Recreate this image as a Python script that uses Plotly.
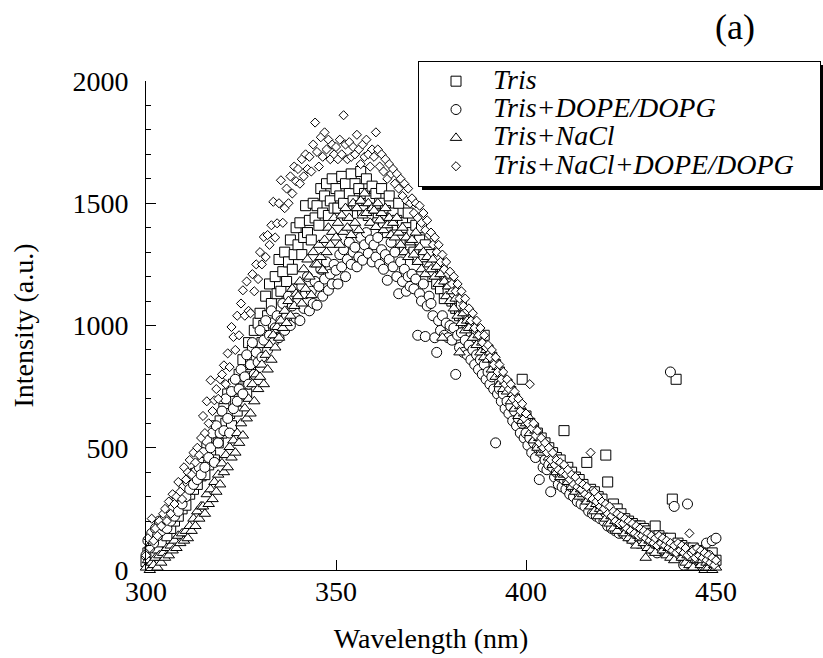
import plotly.graph_objects as go

# Wavelength grid (nm), 0.5 nm sampling from 300 to 450
wavelength = [300 + 0.5 * i for i in range(301)]

tris = [
    35, 70, 48, 95, 60, 120, 90, 140, 115, 160,
    180, 140, 205, 170, 230, 200, 265, 220, 290, 250,
    300, 265, 340, 310, 370, 330, 395, 350, 420, 385,
    460, 390, 500, 430, 470, 540, 450, 590, 520, 610,
    560, 660, 600, 720, 640, 590, 760, 690, 650, 800,
    740, 860, 790, 720, 930, 840, 900, 980, 860, 1010,
    1050, 930, 1000, 1120, 1040, 1170, 1090, 1010, 1200, 1130,
    1270, 1140, 1220, 1300, 1180, 1260, 1350, 1230, 1290, 1400,
    1330, 1420, 1290, 1360, 1490, 1380, 1430, 1350, 1500, 1440,
    1490, 1410, 1560, 1460, 1530, 1580, 1450, 1510, 1600, 1480,
    1560, 1480, 1530, 1610, 1500, 1580, 1450, 1540, 1620, 1510,
    1580, 1490, 1560, 1630, 1470, 1540, 1600, 1450, 1520, 1570,
    1480, 1540, 1420, 1500, 1560, 1410, 1470, 1380, 1530, 1440,
    1460, 1370, 1430, 1500, 1350, 1420, 1310, 1400, 1460, 1330,
    1380, 1300, 1410, 1270, 1350, 1400, 1280, 1330, 1240, 1300,
    1290, 1200, 1250, 1170, 1280, 1150, 1220, 1110, 1190, 1140,
    1170, 1100, 1130, 1070, 1090, 1040, 1080, 1010, 1050, 990,
    1030, 970, 1000, 940, 960, 910, 950, 880, 960, 870,
    900, 850, 870, 810, 840, 780, 810, 750, 770, 730,
    760, 710, 730, 680, 700, 650, 670, 620, 780, 600,
    630, 580, 600, 550, 580, 530, 560, 500, 540, 490,
    520, 470, 500, 450, 480, 430, 460, 420, 450, 400,
    570, 390, 420, 370, 400, 350, 380, 330, 370, 320,
    350, 310, 440, 300, 330, 280, 320, 270, 300, 260,
    290, 250, 470, 360, 260, 230, 270, 210, 250, 200,
    230, 190, 210, 170, 200, 160, 190, 150, 180, 140,
    180, 150, 170, 130, 160, 120, 150, 110, 180, 120,
    140, 110, 130, 90, 120, 100, 130, 290, 90, 780,
    110, 80, 100, 60, 90, 50, 80, 60, 90, 50,
    80, 50, 70, 40, 60, 30, 60, 40, 70, 30,
    40,
]

tris_dope_dopg = [
    60, 120, 90, 150, 110, 170, 140, 200, 160, 180,
    210, 170, 230, 200, 250, 220, 280, 240, 300, 270,
    340, 300, 360, 330, 380, 350, 400, 370, 420, 390,
    480, 420, 530, 460, 500, 560, 440, 590, 520, 560,
    650, 570, 700, 620, 560, 730, 660, 780, 690, 740,
    820, 720, 790, 880, 760, 840, 930, 800, 890, 850,
    980, 870, 940, 1020, 900, 960, 1060, 930, 990, 1040,
    950, 1020, 1090, 980, 1040, 1120, 1000, 1080, 1150, 1030,
    1100, 1020, 1160, 1070, 1130, 1200, 1060, 1140, 1090, 1180,
    1083, 1160, 1230, 1120, 1190, 1260, 1144, 1210, 1170, 1250,
    1226, 1170, 1290, 1240, 1310, 1200, 1270, 1340, 1250, 1300,
    1320, 1240, 1280, 1360, 1267, 1330, 1380, 1295, 1350, 1260,
    1330, 1280, 1360, 1250, 1310, 1230, 1290, 1185, 1270, 1340,
    1240, 1300, 1200, 1130, 1260, 1180, 1230, 1140, 1200, 1160,
    1210, 1150, 1190, 960, 1130, 1100, 1170, 955, 1080, 1120,
    1090, 1040, 950, 890, 1020, 980, 1040, 960, 1010, 950,
    1000, 940, 990, 800, 960, 910, 970, 890, 940, 880,
    920, 860, 900, 840, 880, 820, 860, 800, 840, 780,
    810, 760, 790, 740, 520, 720, 740, 690, 720, 660,
    690, 640, 670, 610, 650, 590, 620, 560, 600, 540,
    560, 510, 540, 480, 520, 460, 500, 370, 480, 420,
    450, 410, 430, 320, 420, 380, 400, 350, 380, 340,
    370, 330, 360, 310, 340, 300, 330, 280, 310, 270,
    300, 260, 290, 240, 280, 230, 270, 220, 260, 210,
    240, 200, 230, 180, 220, 170, 210, 160, 200, 150,
    190, 150, 180, 140, 170, 130, 160, 120, 150, 110,
    150, 110, 140, 100, 130, 90, 120, 80, 110, 70,
    120, 90, 110, 80, 100, 70, 810, 90, 260, 60,
    90, 60, 80, 20, 70, 270, 60, 30, 80, 40,
    70, 40, 60, 20, 50, 110, 60, 30, 120, 40,
    130,
]

tris_nacl = [
    10, 40, 0, 30, 20, 50, 10, 60, 30, 70,
    50, 90, 60, 100, 80, 120, 90, 140, 110, 150,
    120, 160, 130, 180, 160, 210, 180, 240, 210, 260,
    260, 230, 310, 270, 330, 290, 360, 320, 390, 350,
    436, 400, 470, 420, 503, 460, 530, 480, 560, 520,
    600, 550, 661, 620, 700, 640, 760, 690, 800, 740,
    790, 840, 760, 880, 820, 920, 860, 960, 910, 994,
    950, 1020, 990, 1060, 1010, 1100, 1040, 1150, 1080, 1130,
    1120, 1180, 1090, 1230, 1150, 1270, 1200, 1124, 1300, 1250,
    1250, 1330, 1280, 1226, 1350, 1300, 1400, 1330, 1383, 1440,
    1360, 1420, 1330, 1450, 1383, 1480, 1400, 1440, 1370, 1500,
    1420, 1480, 1390, 1510, 1450, 1540, 1460, 1500, 1420, 1480,
    1470, 1403, 1500, 1430, 1460, 1390, 1480, 1410, 1440, 1370,
    1420, 1360, 1440, 1380, 1330, 1400, 1300, 1360, 1280, 1340,
    1350, 1290, 1380, 1260, 1320, 1230, 1300, 1210, 1280, 1250,
    1230, 1270, 1200, 1240, 1170, 1210, 950, 1180, 1120, 1160,
    1100, 1140, 1070, 1110, 1040, 890, 1010, 1050, 980, 1020,
    990, 1020, 950, 990, 920, 960, 890, 930, 870, 900,
    860, 890, 820, 860, 790, 830, 760, 800, 740, 770,
    730, 760, 690, 720, 660, 700, 630, 670, 610, 640,
    600, 630, 560, 600, 530, 570, 500, 540, 480, 510,
    490, 510, 460, 490, 430, 460, 400, 440, 380, 410,
    390, 410, 360, 390, 340, 370, 320, 350, 300, 330,
    310, 330, 280, 310, 260, 290, 240, 270, 220, 250,
    240, 260, 210, 240, 190, 220, 170, 200, 160, 190,
    180, 200, 150, 180, 130, 160, 120, 150, 100, 140,
    130, 150, 110, 50, 90, 120, 80, 110, 70, 100,
    100, 120, 80, 100, 60, 90, 50, 80, 40, 70,
    70, 90, 50, 70, 30, 60, 20, 50, 10, 40,
    40, 60, 20, 40, 0, 30, 10, 30, 0, 20,
    10,
]

tris_nacl_dope_dopg = [
    60, 130, 90, 210, 120, 170, 140, 200, 180, 230,
    250, 200, 280, 230, 310, 270, 300, 360, 320, 290,
    420, 370, 400, 450, 390, 480, 440, 500, 470, 540,
    630, 560, 690, 600, 776, 650, 694, 740, 700, 780,
    800, 837, 760, 886, 830, 994, 953, 900, 1040, 960,
    1090, 1144, 1040, 1180, 1060, 1050, 1210, 1140, 1250, 1190,
    1300, 1250, 1362, 1280, 1370, 1330, 1410, 1506, 1360, 1418,
    1500, 1594, 1420, 1480, 1560, 1500, 1610, 1540, 1650, 1590,
    1640, 1580, 1680, 1610, 1700, 1640, 1690, 1630, 1740, 1830,
    1710, 1650, 1770, 1690, 1790, 1720, 1760, 1680, 1740, 1700,
    1730, 1680, 1760, 1700, 1860, 1740, 1680, 1750, 1690, 1730,
    1700, 1780, 1720, 1660, 1740, 1690, 1760, 1700, 1650, 1720,
    1690, 1790, 1720, 1650, 1700, 1630, 1680, 1600, 1660, 1620,
    1640, 1580, 1620, 1560, 1600, 1530, 1580, 1510, 1560, 1500,
    1520, 1460, 1500, 1440, 1490, 1420, 1460, 1390, 1430, 1370,
    1380, 1330, 1360, 1300, 1330, 1260, 1290, 1230, 1260, 1210,
    1220, 1170, 1200, 1140, 1170, 1110, 1140, 1080, 1110, 1060,
    1070, 1020, 1050, 990, 1020, 960, 990, 930, 960, 910,
    920, 870, 900, 840, 870, 810, 840, 780, 810, 760,
    780, 740, 760, 700, 730, 680, 700, 650, 680, 620,
    640, 600, 760, 580, 600, 550, 570, 520, 540, 500,
    520, 480, 500, 450, 480, 430, 450, 410, 440, 400,
    430, 390, 410, 370, 390, 350, 380, 340, 360, 330,
    350, 310, 340, 300, 480, 290, 320, 280, 300, 260,
    280, 250, 270, 230, 260, 220, 240, 200, 230, 190,
    220, 190, 210, 170, 200, 160, 190, 150, 180, 140,
    170, 140, 160, 130, 150, 120, 140, 110, 130, 100,
    140, 110, 130, 100, 120, 90, 110, 80, 100, 70,
    110, 80, 100, 70, 90, 60, 150, 70, 80, 50,
    90, 60, 80, 50, 70, 40, 60, 30, 50, 20,
    40,
]

series_names = ["Tris", "Tris+DOPE/DOPG", "Tris+NaCl", "Tris+NaCl+DOPE/DOPG"]
series_values = [tris, tris_dope_dopg, tris_nacl, tris_nacl_dope_dopg]
series_symbols = ["square", "circle", "triangle-up", "diamond"]
series_sizes = [10, 10, 10, 7]

x_ticks = [300, 350, 400, 450]
y_ticks = [0, 500, 1000, 1500, 2000]

SERIF = "Liberation Serif, Times New Roman, serif"

fig = go.Figure()
for name, vals, sym, sz in zip(series_names, series_values, series_symbols, series_sizes):
    # trailing padding on the longest entry widens the legend box to the reference width
    pad = "\u00a0\u00a0\u00a0\u200b" if name == series_names[-1] else ""
    fig.add_trace(go.Scatter(
        x=wavelength, y=vals, mode="markers",
        name='<span style="font-size:28px">' + name + pad + '</span>',
        cliponaxis=False,
        marker=dict(symbol=sym, size=sz, color="white",
                    line=dict(color="black", width=1)),
    ))

# plot area in pixels: x 146..716, y 81..570
W, H = 823, 658
L, R, T, B = 146, 107, 81, 88
pw, ph = W - L - R, H - T - B

def px2x(p):
    return (p - L) / pw

def py2y(p):
    return (H - B - p) / ph

# legend box (pixels)
lg_left, lg_top = 418, 61
lg_right, lg_bottom = 821, 186

fig.update_layout(
    width=W, height=H,
    margin=dict(l=L, r=R, t=T, b=B, autoexpand=False),
    paper_bgcolor="white", plot_bgcolor="white",
    font=dict(family=SERIF, size=28, color="black"),
    showlegend=True,
    legend=dict(
        x=px2x(lg_left), y=py2y(lg_top), xanchor="left", yanchor="top",
        bgcolor="white", bordercolor="black", borderwidth=1,
        font=dict(family=SERIF, size=19.5, color="black", style="italic"),
        itemwidth=64, tracegroupgap=0,
    ),
    xaxis=dict(
        range=[300, 450], tickvals=x_ticks, ticks="inside", ticklen=10, tickwidth=1,
        tickcolor="black", showline=True, linecolor="black", linewidth=1,
        showgrid=False, zeroline=False, tickfont=dict(size=28),
        title=dict(text="Wavelength (nm)", font=dict(size=28), standoff=22),
        automargin=False, ticklabelstandoff=-4,
    ),
    yaxis=dict(
        range=[0, 2000], tickvals=y_ticks, ticks="inside", ticklen=10, tickwidth=1,
        tickcolor="black", showline=True, linecolor="black", linewidth=1,
        showgrid=False, zeroline=False, tickfont=dict(size=28),
        minor=dict(ticks="inside", ticklen=5, dtick=100, tickcolor="black", tickwidth=1, showgrid=False),
        title=dict(text="Intensity (a.u.)", font=dict(size=28), standoff=30),
        automargin=False, ticklabelstandoff=11,
    ),
    shapes=[dict(
        type="rect", xref="paper", yref="paper", layer="above",
        x0=px2x(lg_left + 4), x1=px2x(lg_right + 4),
        y0=py2y(lg_bottom + 4), y1=py2y(lg_top + 4),
        fillcolor="black", line=dict(width=0),
    )],
    annotations=[dict(
        text="(a)", xref="paper", yref="paper", x=px2x(735), y=py2y(27),
        xanchor="center", yanchor="middle", showarrow=False,
        font=dict(family=SERIF, size=36, color="black"),
    )],
)

fig.write_html("out.html")
